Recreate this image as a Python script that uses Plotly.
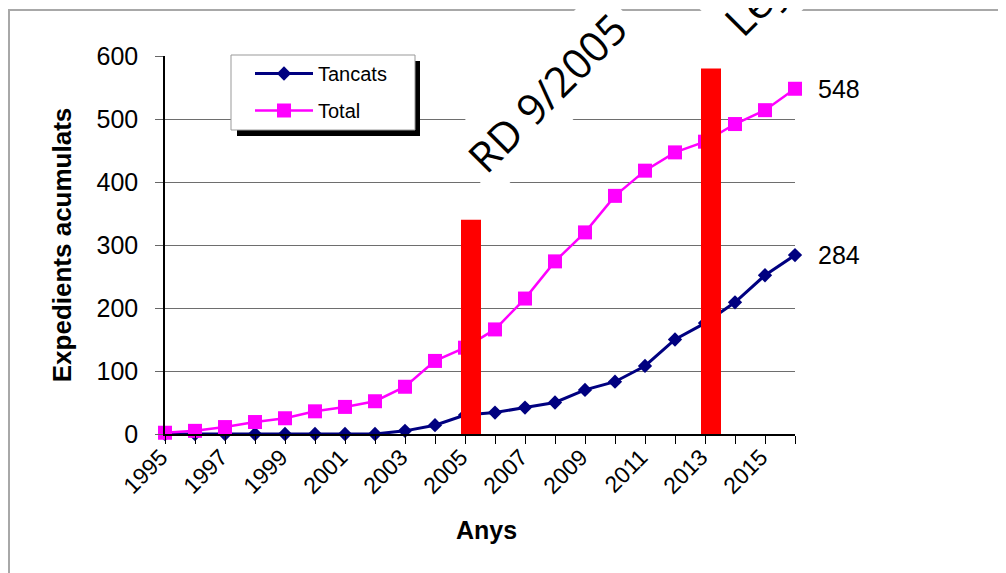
import plotly.graph_objects as go

# ---------------- data ----------------
years = list(range(1995, 2017))
tancats = [0, 0, 0, 0, 0, 0, 0, 0, 5, 14, 30, 34, 42, 50, 70, 83, 108, 150, 176, 209, 252, 284]
total = [2, 5, 11, 19, 25, 36, 43, 52, 75, 116, 137, 166, 215, 274, 320, 378, 418, 447, 464, 492, 514, 548]
series_names = ["Tancats", "Total"]
law_labels = ["RD 9/2005", "Ley 5/2013"]
law_x = [2005.2, 2013.2]
law_top = [340, 580]
tick_years = [y for y in years if y % 2 == 1]
tick_labels = [str(y) for y in tick_years]
y_ticks = [0, 100, 200, 300, 400, 500, 600]

# ---------------- geometry (page pixels; page body has an 8px margin) ----------------
OFF = 8
W, H = 1006 - OFF, 573 - OFF
PL, PR, PT, PB = 165, 795, 56, 434          # plot area in page pixels
ML, MT = PL - OFF, PT - OFF
MR, MB = W - (PR - OFF), H - (PB - OFF)
PW, PH = PR - PL, PB - PT


def px(x):
    return (x - PL) / PW


def py(y):
    return (PB - y) / PH


NAVY = "#000080"
MAGENTA = "#FF00FF"
FONT = "Liberation Sans, Arial, sans-serif"
BIGFONT = "Open Sans, Noto Sans, sans-serif"

fig = go.Figure()
fig.add_trace(go.Scatter(
    x=years, y=tancats, name=series_names[0], mode="lines+markers",
    line=dict(color=NAVY, width=3),
    marker=dict(symbol="diamond", size=11, color=NAVY),
    cliponaxis=False, legendgroup="a",
))
fig.add_trace(go.Scatter(
    x=years, y=total, name=series_names[1], mode="lines+markers",
    line=dict(color=MAGENTA, width=2.5),
    marker=dict(symbol="square", size=14, color=MAGENTA),
    cliponaxis=False, legendgroup="b",
))

# red vertical bars marking the laws
bx, by = [], []
for xv, top in zip(law_x, law_top):
    bx += [xv, xv, None]
    by += [0, top, None]
fig.add_trace(go.Scatter(
    x=bx, y=by, mode="lines", line=dict(color="#FF0000", width=20),
    showlegend=False, hoverinfo="skip", cliponaxis=False,
))

annotations = []
# end labels
for vals in (total, tancats):
    annotations.append(dict(
        x=years[-1], y=vals[-1], xref="x", yref="y", text=str(vals[-1]),
        showarrow=False, xanchor="left", yanchor="middle", xshift=21,
        font=dict(family=FONT, size=25, color="#000000"),
    ))
# law annotations (rotated, white boxed)
law_centers = [(546, 92), (806, -48)]
for lbl, (cx, cy) in zip(law_labels, law_centers):
    annotations.append(dict(
        x=px(cx), y=py(cy), xref="paper", yref="paper", text=lbl,
        showarrow=False, textangle=-45, xanchor="center", yanchor="middle",
        font=dict(family=BIGFONT, size=42, color="#000000"),
        bgcolor="#FFFFFF", borderpad=9,
    ))
# x axis title
annotations.append(dict(
    x=px(486), y=py(530), xref="paper", yref="paper", text="<b>Anys</b>",
    showarrow=False, xanchor="center", yanchor="middle",
    font=dict(family=FONT, size=25, color="#000000"),
))

shapes = [
    # outer chart border
    dict(type="rect", xref="paper", yref="paper", x0=px(9), x1=px(1100), y0=py(700), y1=py(10),
         line=dict(color="#A8A8A8", width=2), fillcolor="rgba(0,0,0,0)", layer="below"),
    # legend shadow
    dict(type="rect", xref="paper", yref="paper", x0=px(237), x1=px(420), y0=py(136), y1=py(61),
         line=dict(width=0), fillcolor="#000000", layer="above"),
    # legend box
    dict(type="rect", xref="paper", yref="paper", x0=px(231), x1=px(415), y0=py(130), y1=py(55),
         line=dict(color="#999999", width=1), fillcolor="#FFFFFF", layer="above"),
]

fig.update_layout(
    width=W, height=H,
    margin=dict(l=ML, r=MR, t=MT, b=MB, pad=0),
    paper_bgcolor="white", plot_bgcolor="white",
    font=dict(family=FONT, color="#000000"),
    showlegend=True,
    legend=dict(
        x=px(250), y=py(54), xanchor="left", yanchor="top",
        bgcolor="rgba(0,0,0,0)", borderwidth=0,
        font=dict(family=FONT, size=20), tracegroupgap=8,
        itemwidth=58,
    ),
    annotations=annotations,
    shapes=shapes,
)
fig.update_xaxes(
    range=[1995, 2016], tickvals=tick_years, ticktext=tick_labels,
    tickangle=-45, tickfont=dict(family=FONT, size=23),
    ticks="outside", ticklen=8, tickcolor="#000000",
    ticklabelstandoff=-9, ticklabelshift=-4,
    minor=dict(dtick=1, tick0=1995, ticks="outside", ticklen=8, tickcolor="#000000", showgrid=False),
    showline=True, linecolor="#000000", linewidth=1.5, showgrid=False, zeroline=False,
)
fig.update_yaxes(
    range=[0, 600], tickvals=y_ticks,
    tickfont=dict(family=FONT, size=25),
    ticks="outside", ticklen=8, tickcolor="#666666", ticklabelstandoff=12,
    showline=True, linecolor="#000000", linewidth=1.5,
    showgrid=True, gridcolor="#6E6E6E", gridwidth=1, zeroline=False,
    title=dict(text="<b>Expedients acumulats</b>", font=dict(family=FONT, size=26), standoff=17),
)

fig.write_html("out.html")
